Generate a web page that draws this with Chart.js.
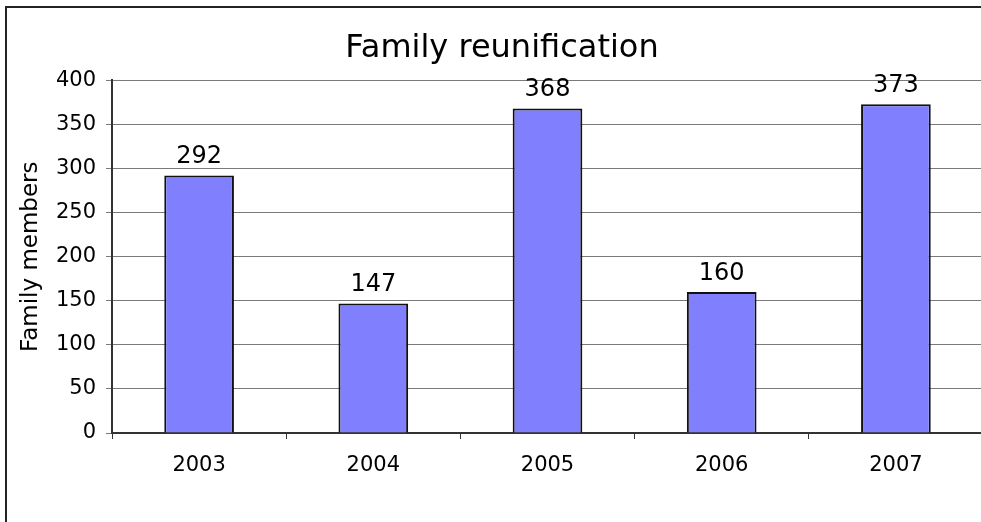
<!DOCTYPE html>
<html>
<head>
<meta charset="utf-8">
<script src="https://cdn.jsdelivr.net/npm/chart.js@4.4.1/dist/chart.umd.min.js"></script>
<style>
  html, body { margin: 0; padding: 0; background: #ffffff; overflow: hidden; width: 981px; height: 522px; }
  #frame { position: absolute; left: 5px; top: 6px; width: 1100px; height: 600px; border: 2px solid #222; box-sizing: border-box; }
  #wrap { position: absolute; left: 0; top: 0; width: 1004px; height: 522px; }
</style>
</head>
<body>
<div id="frame"></div>
<div id="wrap"><canvas id="c" width="1004" height="522"></canvas></div>
<script>
const chartTitle = "Family reunification";
const yAxisTitle = "Family members";
const categories = ["2003", "2004", "2005", "2006", "2007"];
const familyMembers = [292, 147, 368, 160, 373];
const yTicks = [0, 50, 100, 150, 200, 250, 300, 350, 400];

const FONT = "'DejaVu Sans', Verdana, sans-serif";

const valueLabels = {
  id: 'valueLabels',
  afterDatasetsDraw(chart) {
    const ctx = chart.ctx;
    const meta = chart.getDatasetMeta(0);
    ctx.save();
    ctx.font = "24px " + FONT;
    ctx.fillStyle = "#000";
    ctx.textAlign = "center";
    ctx.textBaseline = "middle";
    meta.data.forEach((bar, i) => {
      ctx.fillText(String(chart.data.datasets[0].data[i]), bar.x, bar.y - 18.5);
    });
    ctx.restore();
  }
};

new Chart(document.getElementById('c'), {
  type: 'bar',
  data: {
    labels: categories,
    datasets: [{
      data: familyMembers,
      backgroundColor: '#8080ff',
      borderColor: '#111',
      borderWidth: 2,
      barPercentage: 0.4,
      categoryPercentage: 1.0
    }]
  },
  options: {
    responsive: false,
    animation: false,
    devicePixelRatio: 1,
    layout: { padding: { left: 21, right: 21, top: 0, bottom: 0 } },
    plugins: {
      legend: { display: false },
      tooltip: { enabled: false },
      title: {
        display: true,
        text: chartTitle,
        color: '#000',
        font: { family: FONT, size: 32, weight: 'normal', lineHeight: 1.2 },
        padding: { top: 29, bottom: 13 }
      }
    },
    scales: {
      x: {
        offset: true,
        afterFit: (scale) => { scale.height = 89; },
        grid: { display: true, drawOnChartArea: false, drawTicks: true, tickLength: 6, color: '#333', lineWidth: 1, offset: true },
        border: { display: true, color: '#333', width: 2 },
        ticks: { color: '#000', font: { family: FONT, size: 21 }, padding: 14, maxRotation: 0 }
      },
      y: {
        min: 0,
        max: 400,
        afterBuildTicks: (scale) => { scale.ticks = yTicks.map(v => ({ value: v })); },
        afterFit: (scale) => { scale.width = 91; },
        grid: { color: '#7a7a7a', lineWidth: 1, drawTicks: true, tickLength: 6 },
        border: { display: true, color: '#333', width: 2 },
        ticks: { color: '#000', font: { family: FONT, size: 21 }, padding: 10 },
        title: {
          display: true,
          text: yAxisTitle,
          color: '#000',
          font: { family: FONT, size: 23, lineHeight: 1.2 },
          padding: { top: -4, bottom: 0 }
        }
      }
    }
  },
  plugins: [valueLabels]
});
</script>
</body>
</html>
